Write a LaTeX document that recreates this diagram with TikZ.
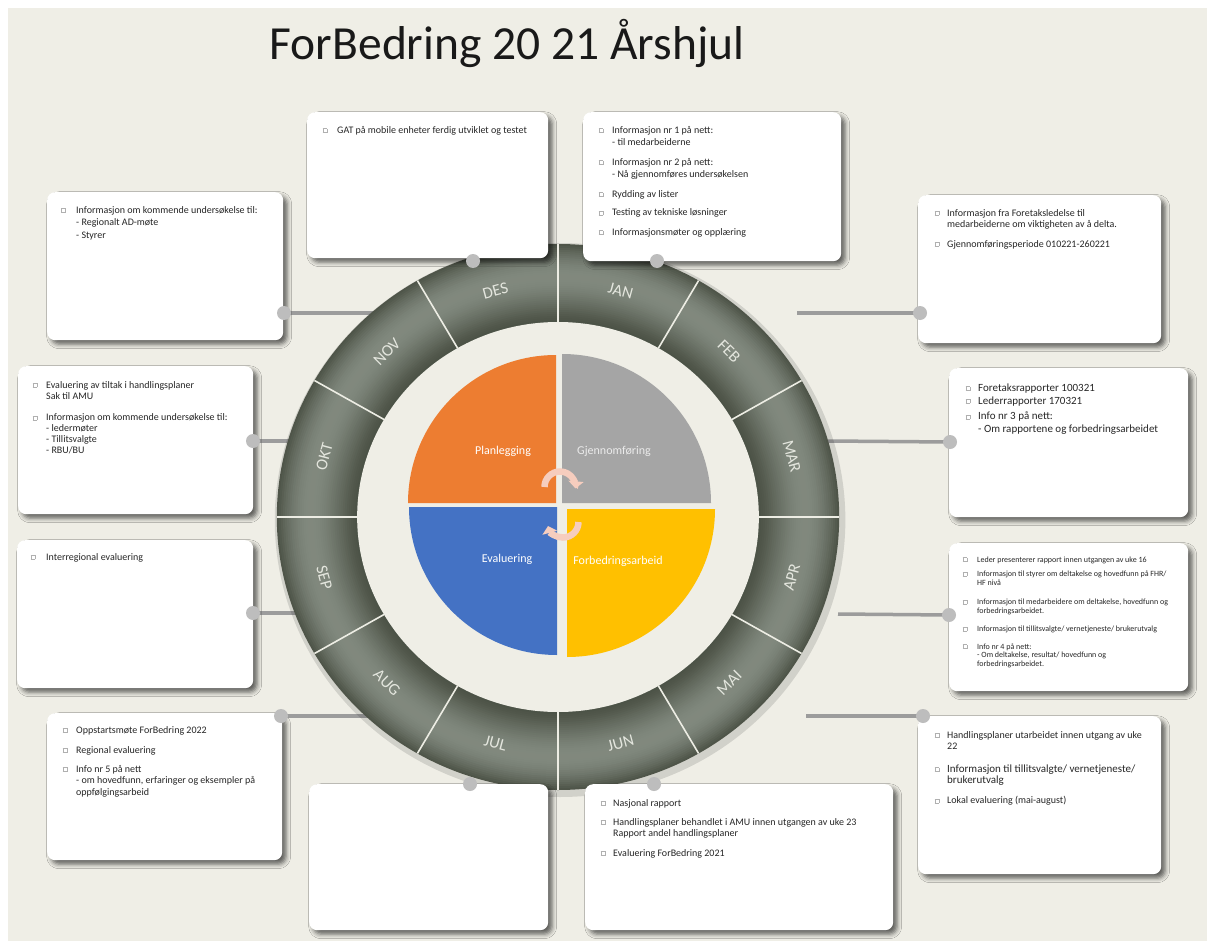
\documentclass[tikz,border=0pt]{standalone}
\usepackage{fontspec}
\setmainfont{Carlito}
\usetikzlibrary{shadows.blur,arrows.meta}

\definecolor{bgbeige}{HTML}{EFEEE6}
\definecolor{ringdark}{HTML}{4C5246}
\definecolor{ringlight}{HTML}{81897E}
\definecolor{divline}{HTML}{EDEDE4}
\definecolor{monthtxt}{HTML}{E4E6DE}
\definecolor{linkgray}{HTML}{9C9C9C}
\definecolor{dotgray}{HTML}{BDBDBD}
\definecolor{bulletgray}{HTML}{B0B0B0}
\definecolor{txtcol}{HTML}{262626}
\definecolor{qorange}{HTML}{ED7D31}
\definecolor{qgray}{HTML}{A5A5A5}
\definecolor{qblue}{HTML}{4472C4}
\definecolor{qyellow}{HTML}{FFC000}
\definecolor{arrowpink}{HTML}{F6CDBE}

% hollow square bullet, bullet with indent, and continuation indent
\newcommand\bsq{\raisebox{0.9pt}{\textcolor{bulletgray}{\fboxsep=0pt\fboxrule=0.5pt\fbox{\rule{0pt}{3.6pt}\rule{3.6pt}{0pt}}}}}
\newcommand\blt[1]{\makebox[#1pt][l]{\bsq}}
\newcommand\hind[1]{\hspace*{#1pt}}

\begin{document}
\begin{tikzpicture}[x=1pt,y=-1pt,
  card/.style={anchor=north west, fill=white, rounded corners=8pt, inner sep=0pt,
    blur shadow={shadow xshift=4pt, shadow yshift=-4pt, shadow blur radius=4.5pt, shadow opacity=60}},
  dot/.style={circle, fill=dotgray, minimum size=14pt, inner sep=0pt},
  link/.style={draw=linkgray, line width=3.5pt},
  txt/.style={anchor=north west, inner sep=0pt, align=left, text=txtcol},
  fsA/.style={font=\fontsize{10}{12}\selectfont},
  mon/.style={text=monthtxt, font=\fontsize{16.5}{16.5}\selectfont},
  quad/.style={font=\fontsize{12}{13}\selectfont, text=white},
  divider/.style={draw=divline, line width=1.6pt},
  cyc/.style={draw=arrowpink, line width=6.5pt, -{Triangle[length=7pt,width=15pt]}}
]
\useasboundingbox (0,0) rectangle (1213,947);
\fill[white] (0,0) rectangle (1213,947);
\fill[bgbeige] (8,8) rectangle (1207,941);

% connector end points
\coordinate (d1) at (284,313);  \coordinate (e1) at (378,313);
\coordinate (d2) at (473,261);
\coordinate (d3) at (657,261);
\coordinate (d4) at (920,313);  \coordinate (e4) at (797,313);
\coordinate (d5) at (950,442);  \coordinate (e5) at (828,441);
\coordinate (d6) at (949,615);  \coordinate (e6) at (838,614);
\coordinate (d7) at (923,716);  \coordinate (e7) at (806,716);
\coordinate (d8) at (654,784);
\coordinate (d9) at (470,784);
\coordinate (d10) at (281,716); \coordinate (e10) at (372,716);
\coordinate (d11) at (253,613); \coordinate (e11) at (305,613);
\coordinate (d12) at (253,441); \coordinate (e12) at (300,441);

\foreach \i in {1,4,5,6,7,10,11,12} \draw[link] (e\i) -- (d\i);

% month ring with a tube-like shading
\begin{scope}[shift={(558,517)}, xscale=1.03]
  \fill[black, opacity=0.12] (2,3) circle[radius=277];
  \foreach \i in {0,...,38}{
    \pgfmathsetmacro\rr{273-2*\i}
    \pgfmathtruncatemacro\pp{100*sin(180*pow((\rr-196)/78,1.25))}
    \fill[ringlight!\pp!ringdark] (0,0) circle[radius=\rr];
  }
  \fill[bgbeige] (0,0) circle[radius=195];
  \foreach \a in {0,30,...,330} \draw[divider] (-\a:195) -- (-\a:273);
\end{scope}

\foreach \m/\a/\r in {JAN/75/-15, FEB/45/-45, MAR/15/-75, APR/-15/75, MAI/-45/45, JUN/-75/15,
                      JUL/-105/-15, AUG/-135/-45, SEP/-165/-75, OKT/165/75, NOV/135/45, DES/105/15}
  \node[mon, rotate=\r] (m\m) at ({558+242*cos(\a)},{517-234*sin(\a)}) {\m};

% four quadrants
\fill[qorange] (556,503) -- ++(-148,0) arc[start angle=-180, end angle=-90, radius=148] -- cycle;
\fill[qgray]   (562,503) -- ++(0,-149) arc[start angle=-90, end angle=0, radius=149] -- cycle;
\fill[qblue]   (557,507) -- ++(-148,0) arc[start angle=180, end angle=90, radius=148] -- cycle;
\fill[qyellow] (567,509) -- ++(148,0) arc[start angle=0, end angle=90, radius=148] -- cycle;

\node[quad] (qplan) at (503,451) {Planlegging};
\node[quad, text=white!92!black] (qgjen) at (614,451) {Gjennomføring};
\node[quad] (qeval) at (507,559) {Evaluering};
\node[quad] (qforb) at (618,561) {Forbedringsarbeid};

% cycle arrows
\draw[cyc] (560,487) ++(-180:15.5) arc[start angle=-180, end angle=5, radius=15.5];
\draw[cyc] (563,522) ++(0:15.5) arc[start angle=0, end angle=165, radius=15.5];

% cards
\node[card, minimum width=236pt, minimum height=148pt] (b1) at (47,192) {};
\node[card, minimum width=241pt, minimum height=146pt] (b2) at (307,112) {};
\node[card, minimum width=258pt, minimum height=149pt] (b3) at (583,112) {};
\node[card, minimum width=243pt, minimum height=148pt] (b4) at (918,195) {};
\node[card, minimum width=239pt, minimum height=149pt] (b5) at (949,368) {};
\node[card, minimum width=239pt, minimum height=148pt] (b6) at (949,543) {};
\node[card, minimum width=243pt, minimum height=158pt] (b7) at (918,716) {};
\node[card, minimum width=308pt, minimum height=146pt] (b8) at (585,784) {};
\node[card, minimum width=239pt, minimum height=146pt] (b9) at (309,784) {};
\node[card, minimum width=235pt, minimum height=147pt] (b10) at (47,713) {};
\node[card, minimum width=236pt, minimum height=148pt] (b11) at (17,540) {};
\node[card, minimum width=235pt, minimum height=148pt] (b12) at (18,366) {};

% card texts
\node[txt, font=\fontsize{10}{12.5}\selectfont] (t1) at (61,206)
  {\blt{15}Informasjon om kommende undersøkelse til:\\\hind{15}- Regionalt AD-møte\\\hind{15}- Styrer};
\node[txt, fsA] (t2) at (322.5,126)
  {\blt{14.5}GAT på mobile enheter ferdig utviklet og testet};
\node[txt, fsA] (t3) at (598.5,126)
  {\blt{13.5}Informasjon nr 1 på nett:\\\hind{13.5}- til medarbeiderne\\[8pt]
   \blt{13.5}Informasjon nr 2 på nett:\\\hind{13.5}- Nå gjennomføres undersøkelsen\\[8pt]
   \blt{13.5}Rydding av lister\\[6.5pt]
   \blt{13.5}Testing av tekniske løsninger\\[7.5pt]
   \blt{13.5}Informasjonsmøter og opplæring};
\node[txt, font=\fontsize{10}{11}\selectfont] (t4) at (934.5,209)
  {\blt{12.5}Informasjon fra Foretaksledelse til\\\hind{12.5}medarbeiderne om viktigheten av å delta.\\[9pt]
   \blt{12.5}Gjennomføringsperiode 010221-260221};
\node[txt, font=\fontsize{11}{12.7}\selectfont] (t5) at (965.5,383.5)
  {\blt{12.5}Foretaksrapporter 100321\\
   \blt{12.5}Lederrapporter 170321\\[3pt]
   \blt{12.5}Info nr 3 på nett:\\\hind{12.5}- Om rapportene og forbedringsarbeidet};
\node[txt, font=\fontsize{8}{8.7}\selectfont] (t6) at (962.5,556.5)
  {\blt{14.5}Leder presenterer rapport innen utgangen av uke 16\\[5.6pt]
   \blt{14.5}Informasjon til styrer om deltakelse og hovedfunn på FHR/\\\hind{14.5}HF nivå\\[11pt]
   \blt{14.5}Informasjon til medarbeidere om deltakelse, hovedfunn og\\\hind{14.5}forbedringsarbeidet.\\[9.5pt]
   \blt{14.5}Informasjon til tillitsvalgte/ vernetjeneste/ brukerutvalg\\[8.7pt]
   \blt{14.5}Info nr 4 på nett:\\\hind{14.5}- Om deltakelse, resultat/ hovedfunn og\\\hind{14.5}forbedringsarbeidet.};
\node[txt, font=\fontsize{10}{11}\selectfont] (t7a) at (934.5,731)
  {\blt{12.5}Handlingsplaner utarbeidet innen utgang av uke\\\hind{12.5}22};
\node[txt, font=\fontsize{11}{11.5}\selectfont] (t7b) at (934.5,764.5)
  {\blt{12.5}Informasjon til tillitsvalgte/ vernetjeneste/\\\hind{12.5}brukerutvalg};
\node[txt, font=\fontsize{10}{11}\selectfont] (t7c) at (934.5,796)
  {\blt{12.5}Lokal evaluering (mai-august)};
\node[txt, font=\fontsize{10}{11.6}\selectfont] (t8) at (600.5,799)
  {\blt{12.5}Nasjonal rapport\\[7.4pt]
   \blt{12.5}Handlingsplaner behandlet i AMU innen utgangen av uke 23\\\hind{12.5}Rapport andel handlingsplaner\\[7.8pt]
   \blt{12.5}Evaluering ForBedring 2021};
\node[txt, font=\fontsize{10}{11.5}\selectfont] (t10) at (62.5,726)
  {\blt{13.5}Oppstartsmøte ForBedring 2022\\[8.5pt]
   \blt{13.5}Regional evaluering\\[7.5pt]
   \blt{13.5}Info nr 5 på nett\\\hind{13.5}- om hovedfunn, erfaringer og eksempler på\\\hind{13.5}oppfølgingsarbeid};
\node[txt, fsA] (t11) at (30.5,553)
  {\blt{15.5}Interregional evaluering};
\node[txt, font=\fontsize{10}{11}\selectfont] (t12) at (32.5,381)
  {\blt{13.5}Evaluering av tiltak i handlingsplaner\\\hind{13.5}Sak til AMU\\[10.7pt]
   \blt{13.5}Informasjon om kommende undersøkelse til:\\\hind{13.5}- ledermøter\\\hind{13.5}- Tillitsvalgte\\\hind{13.5}- RBU/BU};

% connector dots
\foreach \i in {1,...,12} \node[dot] (p\i) at (d\i) {};

% title
\node[font=\fontsize{47.5}{50}\selectfont, text=black!90, anchor=base] (title) at (507,60) {ForBedring 20 21 Årshjul};
\end{tikzpicture}
\end{document}
